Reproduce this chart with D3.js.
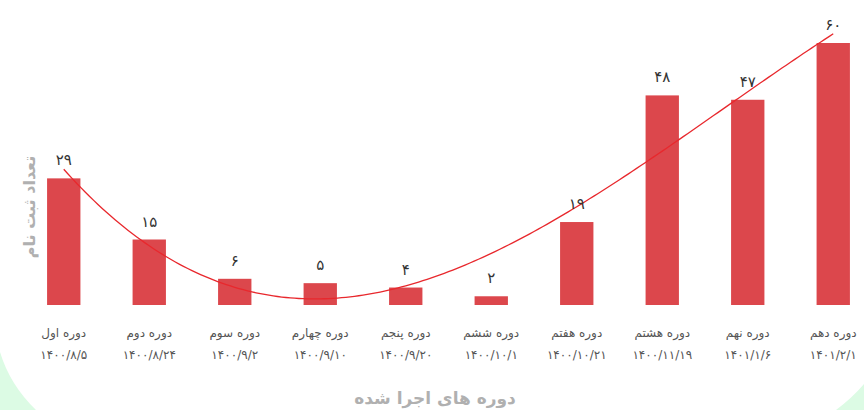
<!DOCTYPE html>
<html>
<head>
<meta charset="utf-8">
<script src="https://cdn.jsdelivr.net/npm/d3@7"></script>
<style>
  body { margin: 0; background: #fff; }
  svg { display: block; font-family: "DejaVu Sans", sans-serif; }
</style>
</head>
<body>
<div id="chart"></div>
<script>
// data
var periods = ["دوره اول", "دوره دوم", "دوره سوم", "دوره چهارم", "دوره پنجم",
               "دوره ششم", "دوره هفتم", "دوره هشتم", "دوره نهم", "دوره دهم"];
var dates = ["۱۴۰۰/۸/۵", "۱۴۰۰/۸/۲۴", "۱۴۰۰/۹/۲", "۱۴۰۰/۹/۱۰", "۱۴۰۰/۹/۲۰",
             "۱۴۰۰/۱۰/۱", "۱۴۰۰/۱۰/۲۱", "۱۴۰۰/۱۱/۱۹", "۱۴۰۱/۱/۶", "۱۴۰۱/۲/۱"];
var counts = [29, 15, 6, 5, 4, 2, 19, 48, 47, 60];
var yTitle = "تعداد ثبت نام";
var xTitle = "دوره های اجرا شده";

var width = 864, height = 410;
var baseY = 305;

function faDigits(n){
    return String(n).replace(/\d/g, function(c){ return "۰۱۲۳۴۵۶۷۸۹"[+c]; });
}

// least squares polynomial (order 3), like a spreadsheet trendline
function polyFit(ys, order){
    var n = order + 1;
    var A = [], b = [];
    for (var i = 0; i < n; i++){
        A.push([]);
        for (var j = 0; j < n; j++){
            A[i].push(d3.sum(ys, function(d, k){ return Math.pow(k + 1, i + j); }));
        }
        b.push(d3.sum(ys, function(d, k){ return d * Math.pow(k + 1, i); }));
    }
    for (var c = 0; c < n; c++){
        for (var r = c + 1; r < n; r++){
            var f = A[r][c] / A[c][c];
            for (var k = c; k < n; k++) A[r][k] -= f * A[c][k];
            b[r] -= f * b[c];
        }
    }
    var coef = new Array(n).fill(0);
    for (var r2 = n - 1; r2 >= 0; r2--){
        var s = b[r2];
        for (var k2 = r2 + 1; k2 < n; k2++) s -= A[r2][k2] * coef[k2];
        coef[r2] = s / A[r2][r2];
    }
    return function(x){
        return d3.sum(coef, function(cf, p){ return cf * Math.pow(x, p); });
    };
}

var svg = d3.select("#chart").append("svg")
    .attr("width", width)
    .attr("height", height);

// pale green corner decorations
svg.append("path")
   .attr("d", "M0,352 Q10,385 36,410 L0,410 Z")
   .attr("fill", "#dcfbe4");
svg.append("path")
   .attr("d", "M836,410 Q852,398 864,384 L864,410 Z")
   .attr("fill", "#dcfbe4");

var x = d3.scaleBand()
          .domain(periods)
          .range([21, 876])
          .paddingInner(0.61)
          .paddingOuter(0.305);

var y = d3.scaleLinear()
          .domain([0, 60])
          .range([baseY, 43]);

svg.append("g")
   .selectAll("rect")
   .data(counts)
   .enter().append("rect")
   .attr("x", function(d, i){ return x(periods[i]); })
   .attr("y", function(d){ return y(d); })
   .attr("width", x.bandwidth())
   .attr("height", function(d){ return baseY - y(d); })
   .attr("fill", "#dc474c");

// trend line
var trend = polyFit(counts, 3);
var xt = d3.scaleLinear()
           .domain([1, counts.length])
           .range([x(periods[0]) + x.bandwidth() / 2, x(periods[periods.length - 1]) + x.bandwidth() / 2]);
var pts = d3.range(1, counts.length + 0.001, 0.05);
svg.append("path")
   .datum(pts)
   .attr("fill", "none")
   .attr("stroke", "#e8282d")
   .attr("stroke-width", 1.3)
   .attr("d", d3.line()
                .x(function(t){ return xt(t); })
                .y(function(t){ return y(trend(t)); }));

// value labels
svg.append("g")
   .selectAll("text")
   .data(counts)
   .enter().append("text")
   .attr("x", function(d, i){ return x(periods[i]) + x.bandwidth() / 2; })
   .attr("y", function(d){ return y(d) - 13; })
   .attr("text-anchor", "middle")
   .attr("font-size", 15)
   .attr("fill", "#333")
   .text(function(d){ return faDigits(d); });

// category labels (two lines)
var xAxis = svg.append("g");
xAxis.selectAll(".per")
     .data(periods)
     .enter().append("text")
     .attr("class", "per")
     .attr("x", function(d){ return x(d) + x.bandwidth() / 2; })
     .attr("y", 337)
     .attr("text-anchor", "middle")
     .attr("font-size", 12)
     .attr("fill", "#555")
     .text(function(d){ return d; });
xAxis.selectAll(".date")
     .data(dates)
     .enter().append("text")
     .attr("class", "date")
     .attr("x", function(d, i){ return x(periods[i]) + x.bandwidth() / 2; })
     .attr("y", 359)
     .attr("text-anchor", "middle")
     .attr("font-size", 12)
     .attr("fill", "#555")
     .text(function(d){ return d; });

svg.append("text")
   .attr("x", 435)
   .attr("y", 404)
   .attr("text-anchor", "middle")
   .attr("font-size", 17)
   .attr("font-weight", "bold")
   .attr("fill", "#b0b0b0")
   .text(xTitle);

svg.append("text")
   .attr("transform", "translate(35,207) rotate(-90)")
   .attr("text-anchor", "middle")
   .attr("font-size", 16)
   .attr("font-weight", "bold")
   .attr("fill", "#b0b0b0")
   .text(yTitle);
</script>
</body>
</html>
